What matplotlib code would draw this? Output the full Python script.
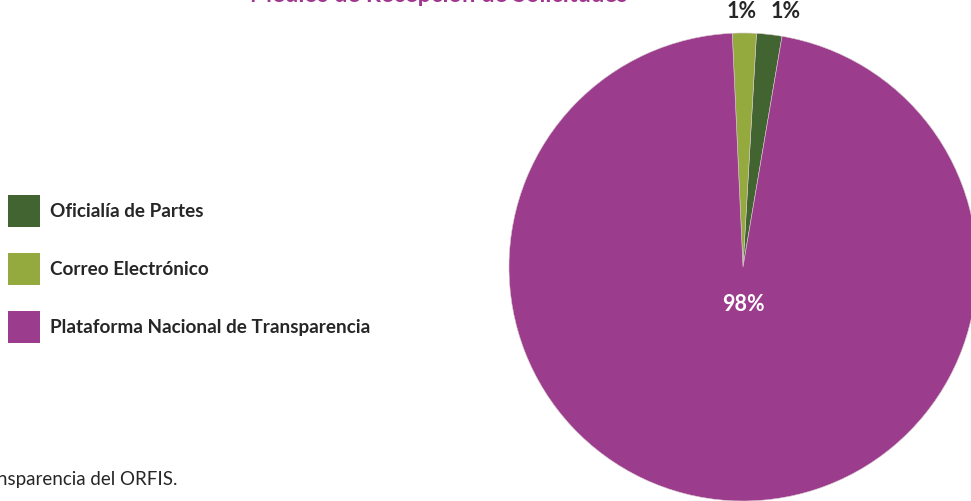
import matplotlib.pyplot as plt
from matplotlib.patches import Patch

plt.rcParams['font.family'] = ['Lato', 'DejaVu Sans']

# datos (porcentaje de solicitudes por medio)
medios = ['Oficialía de Partes', 'Correo Electrónico', 'Plataforma Nacional de Transparencia']
valores = [1.75, 1.65, 96.6]
etiquetas = ['1%', '1%', '98%']
colores = ['#416430', '#94A93E', '#9C3C8C']

fig = plt.figure(figsize=(9.71, 5.01), dpi=100)

# eje del pastel (se sale un poco por la derecha y abajo, como en el original)
ax = fig.add_axes([509 / 971, 0.0, 468 / 971, 468 / 501])
wedges, _ = ax.pie(valores, colors=colores, startangle=80.4, counterclock=True,
                   wedgeprops=dict(linewidth=0.4, edgecolor='#d8c8d0'))
ax.set_xlim(-1, 1)
ax.set_ylim(-1, 1)
ax.set_aspect('equal')

# etiquetas de porcentaje
ax.text(0.184, 1.09, etiquetas[0], ha='center', va='center', fontsize=15.5,
        fontweight='bold', color='#262626', clip_on=False)
ax.text(-0.005, 1.09, etiquetas[1], ha='center', va='center', fontsize=15.5,
        fontweight='bold', color='#262626', clip_on=False)
ax.text(0, -0.162, etiquetas[2], ha='center', va='center', fontsize=15.5,
        fontweight='bold', color='white')

# leyenda a la izquierda (cuadros de ~32 px)
handles = [Patch(facecolor=c, edgecolor='none') for c in colores]
fig.legend(handles, medios, loc='center left', bbox_to_anchor=(8 / 971, 1 - 269 / 501),
           frameon=False, prop=dict(weight='bold', size=13.6),
           handlelength=1.69, handleheight=2.22, labelspacing=1.38,
           handletextpad=0.53, borderaxespad=0.0, borderpad=0.0,
           labelcolor='#262626')

# titulo (cortado arriba en la imagen original)
fig.text(439 / 971, 1 - 1.5 / 501, 'Medios de Recepción de Solicitudes', ha='center',
         va='baseline', fontsize=17, fontweight='bold', color='#A0368F')

# fuente
fig.text(177 / 971, 1 - 480 / 501, 'Fuente: Unidad de Transparencia del ORFIS.',
         ha='right', va='center', fontsize=13.5, color='#262626')

fig.savefig('out.png', dpi=100)
